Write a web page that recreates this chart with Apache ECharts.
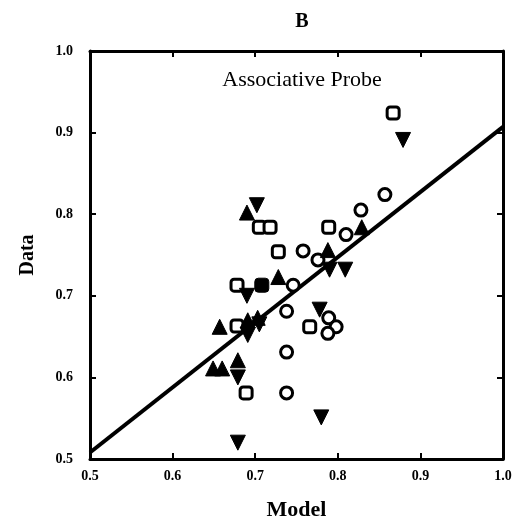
<!DOCTYPE html>
<html>
<head>
<meta charset="utf-8">
<script src="https://cdn.jsdelivr.net/npm/echarts@6/dist/echarts.min.js"></script>
<style>
  html, body { margin: 0; padding: 0; background: #fff; }
  #chart { width: 520px; height: 529px; }
</style>
</head>
<body>
<div id="chart"></div>
<script>
// Axis ticks
const xTicks = [0.5, 0.6, 0.7, 0.8, 0.9, 1.0];
const yTicks = [0.5, 0.6, 0.7, 0.8, 0.9, 1.0];

// Observed vs. predicted, one list per condition: [model, data]
const openSquares = [
  [0.867, 0.924], [0.705, 0.784], [0.718, 0.784], [0.728, 0.754],
  [0.789, 0.784], [0.678, 0.713], [0.678, 0.663], [0.766, 0.662],
  [0.689, 0.581]
];
const filledSquares = [
  [0.708, 0.713]
];
const openCircles = [
  [0.857, 0.824], [0.828, 0.805], [0.810, 0.775], [0.758, 0.755],
  [0.776, 0.744], [0.746, 0.713], [0.738, 0.681], [0.789, 0.673],
  [0.798, 0.662], [0.788, 0.654], [0.738, 0.631], [0.738, 0.581]
];
const upTriangles = [
  [0.690, 0.802], [0.829, 0.784], [0.788, 0.756], [0.728, 0.723],
  [0.657, 0.662], [0.691, 0.670], [0.703, 0.673], [0.679, 0.621],
  [0.649, 0.611], [0.660, 0.611]
];
const downTriangles = [
  [0.702, 0.811], [0.879, 0.891], [0.790, 0.732], [0.809, 0.732],
  [0.690, 0.700], [0.691, 0.652], [0.705, 0.665], [0.778, 0.683],
  [0.679, 0.600], [0.780, 0.551], [0.679, 0.520]
];

// Fitted line endpoints
const fitLine = [[0.5, 0.508], [1.0, 0.907]];

const serif = '"Liberation Serif", "DejaVu Serif", serif';
const ink = '#000';

const chart = echarts.init(document.getElementById('chart'), null, { renderer: 'canvas' });

const tickLabel = {
  fontFamily: serif, fontWeight: 'bold', fontSize: 14, color: ink,
  formatter: v => v.toFixed(1)
};

function axisBase(extra) {
  return Object.assign({
    type: 'value', min: 0.5, max: 1.0, interval: 0.1,
    axisLine: { show: true, lineStyle: { color: ink, width: 3 } },
    axisTick: { show: true, inside: true, length: 6, lineStyle: { color: ink, width: 2 } },
    splitLine: { show: false }
  }, extra);
}

chart.setOption({
  animation: false,
  backgroundColor: '#fff',
  title: [
    { text: 'B', left: 297, top: 7, textAlign: 'center',
      textStyle: { fontFamily: serif, fontWeight: 'bold', fontSize: 20, color: ink } },
    { text: 'Associative Probe', left: 297, top: 64, textAlign: 'center',
      textStyle: { fontFamily: serif, fontWeight: 'normal', fontSize: 22, color: ink } }
  ],
  grid: { left: 90, right: 17, top: 51, bottom: 70 },
  xAxis: [
    axisBase({
      position: 'bottom',
      name: 'Model', nameLocation: 'middle', nameGap: 40,
      nameTextStyle: { fontFamily: serif, fontWeight: 'bold', fontSize: 22, color: ink },
      axisLabel: Object.assign({ margin: 10 }, tickLabel)
    }),
    axisBase({ position: 'top', axisLabel: { show: false } })
  ],
  yAxis: [
    axisBase({
      position: 'left',
      name: 'Data', nameLocation: 'middle', nameGap: 52, nameRotate: 90,
      nameTextStyle: { fontFamily: serif, fontWeight: 'bold', fontSize: 20, color: ink },
      axisLabel: Object.assign({ margin: 17 }, tickLabel)
    }),
    axisBase({ position: 'right', axisLabel: { show: false } })
  ],
  series: [
    {
      type: 'line', data: fitLine, symbol: 'none', z: 1,
      lineStyle: { color: ink, width: 4 }
    },
    {
      type: 'scatter', data: openSquares, symbol: 'roundRect', symbolSize: 12, z: 3,
      itemStyle: { color: '#fff', borderColor: ink, borderWidth: 3, opacity: 1 }
    },
    {
      type: 'scatter', data: filledSquares, symbol: 'roundRect', symbolSize: 14, z: 3,
      itemStyle: { color: ink, borderColor: ink, borderWidth: 1, opacity: 1 }
    },
    {
      type: 'scatter', data: openCircles, symbol: 'circle', symbolSize: 12, z: 3,
      itemStyle: { color: '#fff', borderColor: ink, borderWidth: 3, opacity: 1 }
    },
    {
      type: 'scatter', data: upTriangles, symbol: 'triangle', symbolSize: 15, z: 3,
      itemStyle: { color: ink, borderColor: ink, borderWidth: 1, borderJoin: 'round', opacity: 1 }
    },
    {
      type: 'scatter', data: downTriangles, symbol: 'triangle', symbolRotate: 180, symbolSize: 15, z: 3,
      itemStyle: { color: ink, borderColor: ink, borderWidth: 1, borderJoin: 'round', opacity: 1 }
    }
  ]
});
</script>
</body>
</html>
